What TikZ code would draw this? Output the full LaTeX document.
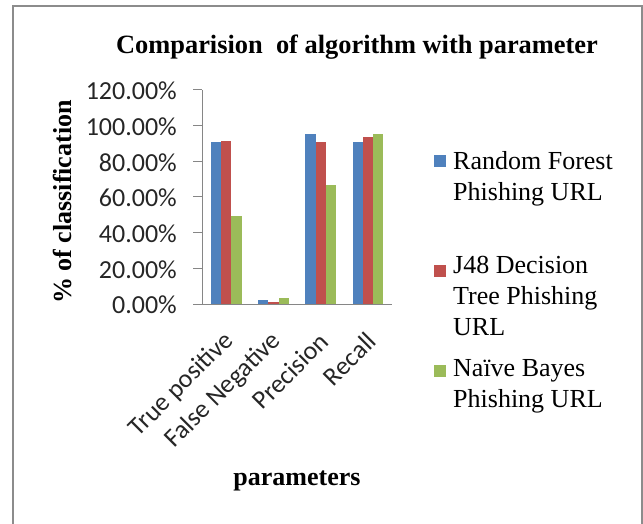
\documentclass[tikz,border=0pt]{standalone}
\usepackage{fontspec}
\setmainfont{Liberation Serif}
\newfontfamily\calfont{Carlito}
\definecolor{rfblue}{HTML}{4F81BD}
\definecolor{jred}{HTML}{C0504D}
\definecolor{nbgreen}{HTML}{9BBB59}
\definecolor{axisgray}{HTML}{868686}
\definecolor{framegray}{HTML}{8C8C8C}
\tikzset{
  ticklabel/.style={font=\calfont\fontsize{26}{30}\selectfont, text=black!85, inner sep=0pt},
  catlabel/.style={ticklabel, rotate=45, anchor=east},
  legtext/.style={font=\fontsize{26}{31}\selectfont, align=left, anchor=north west, inner sep=0pt},
  legkey/.style={minimum size=12pt, inner sep=0pt},
  axistitle/.style={font=\bfseries\fontsize{26}{30}\selectfont, inner sep=0pt}
}
\begin{document}
\begin{tikzpicture}[x=1pt,y=-1pt]
\useasboundingbox (0,0) rectangle (643,524);
\draw[framegray, line width=2pt] (12.5,530) -- (12.5,6) -- (641.6,6) -- (641.6,530);
\node[font=\bfseries\fontsize{26.4}{30}\selectfont, anchor=base, inner sep=0pt] (title) at (357,53.3) {Comparision\ \ of algorithm with parameter};
\foreach \g/\a/\b/\c in {0/90.8/91.3/49.1, 1/2.4/1.1/3.2, 2/95.2/90.8/66.5, 3/90.8/93.6/95.1} {
  \fill[rfblue] ({210.75+47.25*\g},304) rectangle +(10.33,{-1.7833*\a});
  \fill[jred] ({221.08+47.25*\g},304) rectangle +(10.33,{-1.7833*\b});
  \fill[nbgreen] ({231.41+47.25*\g},304) rectangle +(10.33,{-1.7833*\c});
}
\coordinate (origin) at (202,304);
\coordinate (ytop) at (202,90);
\coordinate (xend) at (391.5,304);
\draw[axisgray, line width=1pt] (ytop) -- (origin);
\draw[axisgray, line width=1pt] (193,304) -- (xend);
\foreach \t/\lab in {0/0.00\%, 1/20.00\%, 2/40.00\%, 3/60.00\%, 4/80.00\%, 5/100.00\%, 6/120.00\%} {
  \draw[axisgray, line width=1pt] (193,{304-35.667*\t}) -- (202,{304-35.667*\t});
  \node[ticklabel, anchor=east] (ytick\t) at (177,{305-35.667*\t}) {\lab};
}
\foreach \g/\lab in {0/True positive, 1/False Negative, 2/Precision, 3/Recall}
  \node[catlabel] (cat\g) at ({229.6+47.25*\g},337) {\lab};
\node[axistitle, rotate=90] (ytitle) at (62.5,202) {\% of classification};
\node[axistitle] (xtitle) at (297,481) {parameters};
\node[legtext] (rfleg) at (453,151.5) {Random Forest\\Phishing URL};
\node[legtext] (j48leg) at (453,256.2) {J48 Decision\\Tree Phishing\\URL};
\node[legtext] (nbleg) at (453,358.9) {Naïve Bayes\\Phishing URL};
\node[legkey, fill=rfblue] (rfkey) at (440,161) {};
\node[legkey, fill=jred] (j48key) at (440,270.5) {};
\node[legkey, fill=nbgreen] (nbkey) at (440,371) {};
\end{tikzpicture}
\end{document}
